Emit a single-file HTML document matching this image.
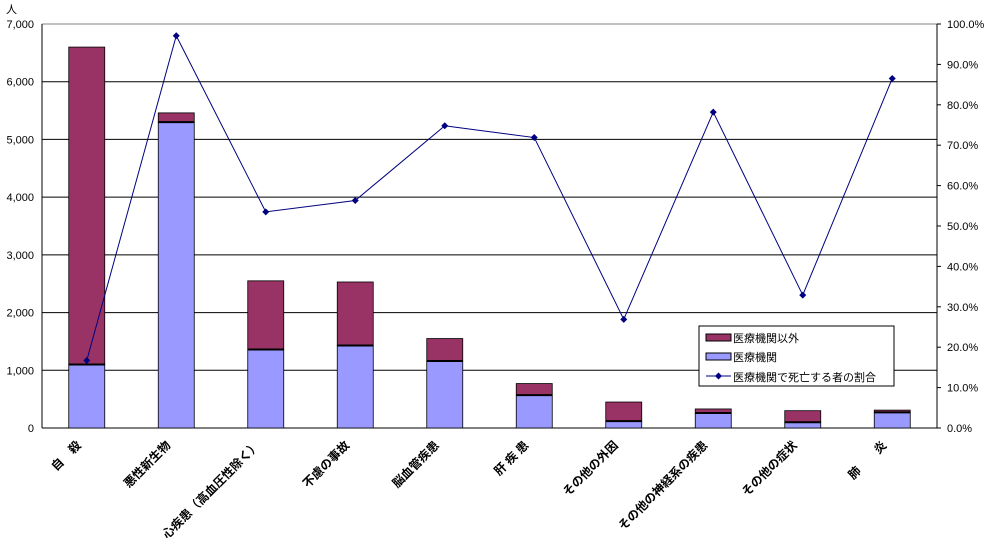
<!DOCTYPE html>
<html><head><meta charset="utf-8"><style>
body{margin:0;background:#fff;}
svg text{font-family:"Liberation Sans","Noto Sans CJK JP",sans-serif;font-size:11px;fill:#000;}
.cat{font-size:12px;font-weight:bold;}
</style></head><body>
<svg id="chart" width="987" height="545" viewBox="0 0 987 545" xmlns="http://www.w3.org/2000/svg"></svg>
<script>
const categories=["自　殺","悪性新生物","心疾患（高血圧性除く）","不慮の事故","脳血管疾患","肝 疾 患","その他の外因","その他の神経系の疾患","その他の症状","肺　　炎"];
const medical=[1100,5300,1360,1430,1160,570,120,260,100,270];
const nonMedical=[5500,160,1190,1100,390,200,330,70,200,40];
const ratio=[16.7,97.1,53.5,56.3,74.8,71.9,26.9,78.2,32.9,86.5];
const leftTicks=["0","1,000","2,000","3,000","4,000","5,000","6,000","7,000"];
const rightTicks=["0.0%","10.0%","20.0%","30.0%","40.0%","50.0%","60.0%","70.0%","80.0%","90.0%","100.0%"];

const NS="http://www.w3.org/2000/svg";
const svg=document.getElementById('chart');
const X0=42,X1=937,Y0=428,Y1=24;
const yL=v=>Y0-(v/7000)*(Y0-Y1);
const yR=p=>Y0-(p/100)*(Y0-Y1);
const band=(X1-X0)/categories.length;
const xC=i=>X0+band*(i+0.5);
function mk(tag,attrs,parent){const e=document.createElementNS(NS,tag);for(const k in attrs)e.setAttribute(k,attrs[k]);(parent||svg).appendChild(e);return e;}

leftTicks.forEach((t,i)=>{const y=yL(i*1000);
 const g=mk('line',{x1:X0,x2:X1,y1:y,y2:y,stroke:i===leftTicks.length-1?'#808080':'#000','stroke-width':1});
 
 
 const tx=mk('text',{x:X0-8,y:y+4,'text-anchor':'end'});tx.textContent=t;
 
 
});
rightTicks.forEach((t,i)=>{const y=yR(i*10);
 mk('line',{x1:X1,x2:X1+4,y1:y,y2:y,stroke:'#000'});
 const tx=mk('text',{x:X1+10,y:y+4});tx.textContent=t;
 
 
});
mk('line',{x1:X0,x2:X0,y1:Y1,y2:Y0,stroke:'#000'});
mk('line',{x1:X1,x2:X1,y1:Y1,y2:Y0,stroke:'#000'});
const unit=mk('text',{x:6,y:13});unit.textContent='人';



categories.forEach((c,i)=>{
 const bw=36,x=xC(i)-bw/2;
 const b1=mk('rect',{x:x,y:yL(medical[i]),width:bw,height:Y0-yL(medical[i]),fill:'#9999ff',stroke:'#000','stroke-width':0.8});
 
 
 const top=medical[i]+nonMedical[i];
 const b2=mk('rect',{x:x,y:yL(top),width:bw,height:yL(medical[i])-yL(top),fill:'#993366',stroke:'#000','stroke-width':0.8});
 
 
 mk('line',{x1:x,x2:x+bw,y1:yL(medical[i]),y2:yL(medical[i]),stroke:'#000','stroke-width':2});
 const lx=xC(i)-5,ly=446;
 const t=mk('text',{x:lx,y:ly,'text-anchor':'end',class:'cat',transform:`rotate(-45 ${lx} ${ly})`});
 t.textContent=c;
 
 
});

const pts=ratio.map((p,i)=>`${xC(i)},${yR(p)}`).join(' ');
const pl=mk('polyline',{points:pts,fill:'none',stroke:'#000080','stroke-width':1});


ratio.forEach((p,i)=>{const x=xC(i),y=yR(p);
 const m=mk('polygon',{points:`${x},${y-3.5} ${x+3.5},${y} ${x},${y+3.5} ${x-3.5},${y}`,fill:'#000080'});
 
 
});

const lg=mk('g',{});


mk('rect',{x:699,y:326,width:195,height:60,fill:'#fff',stroke:'#000'},lg);
const items=[['医療機関以外','#993366'],['医療機関','#9999ff']];
items.forEach((it,k)=>{const y=332+k*19;
 mk('rect',{x:706,y:y+2,width:25,height:7,fill:it[1],stroke:'#000'},lg);
 const t=mk('text',{x:733,y:y+10},lg);t.textContent=it[0];
 
 
});
mk('line',{x1:706,x2:731,y1:376,y2:376,stroke:'#000080'},lg);
mk('polygon',{points:'718.5,372.5 722,376 718.5,379.5 715,376',fill:'#000080'},lg);
const t3=mk('text',{x:733,y:381},lg);t3.textContent='医療機関で死亡する者の割合';


</script>
</body></html>
